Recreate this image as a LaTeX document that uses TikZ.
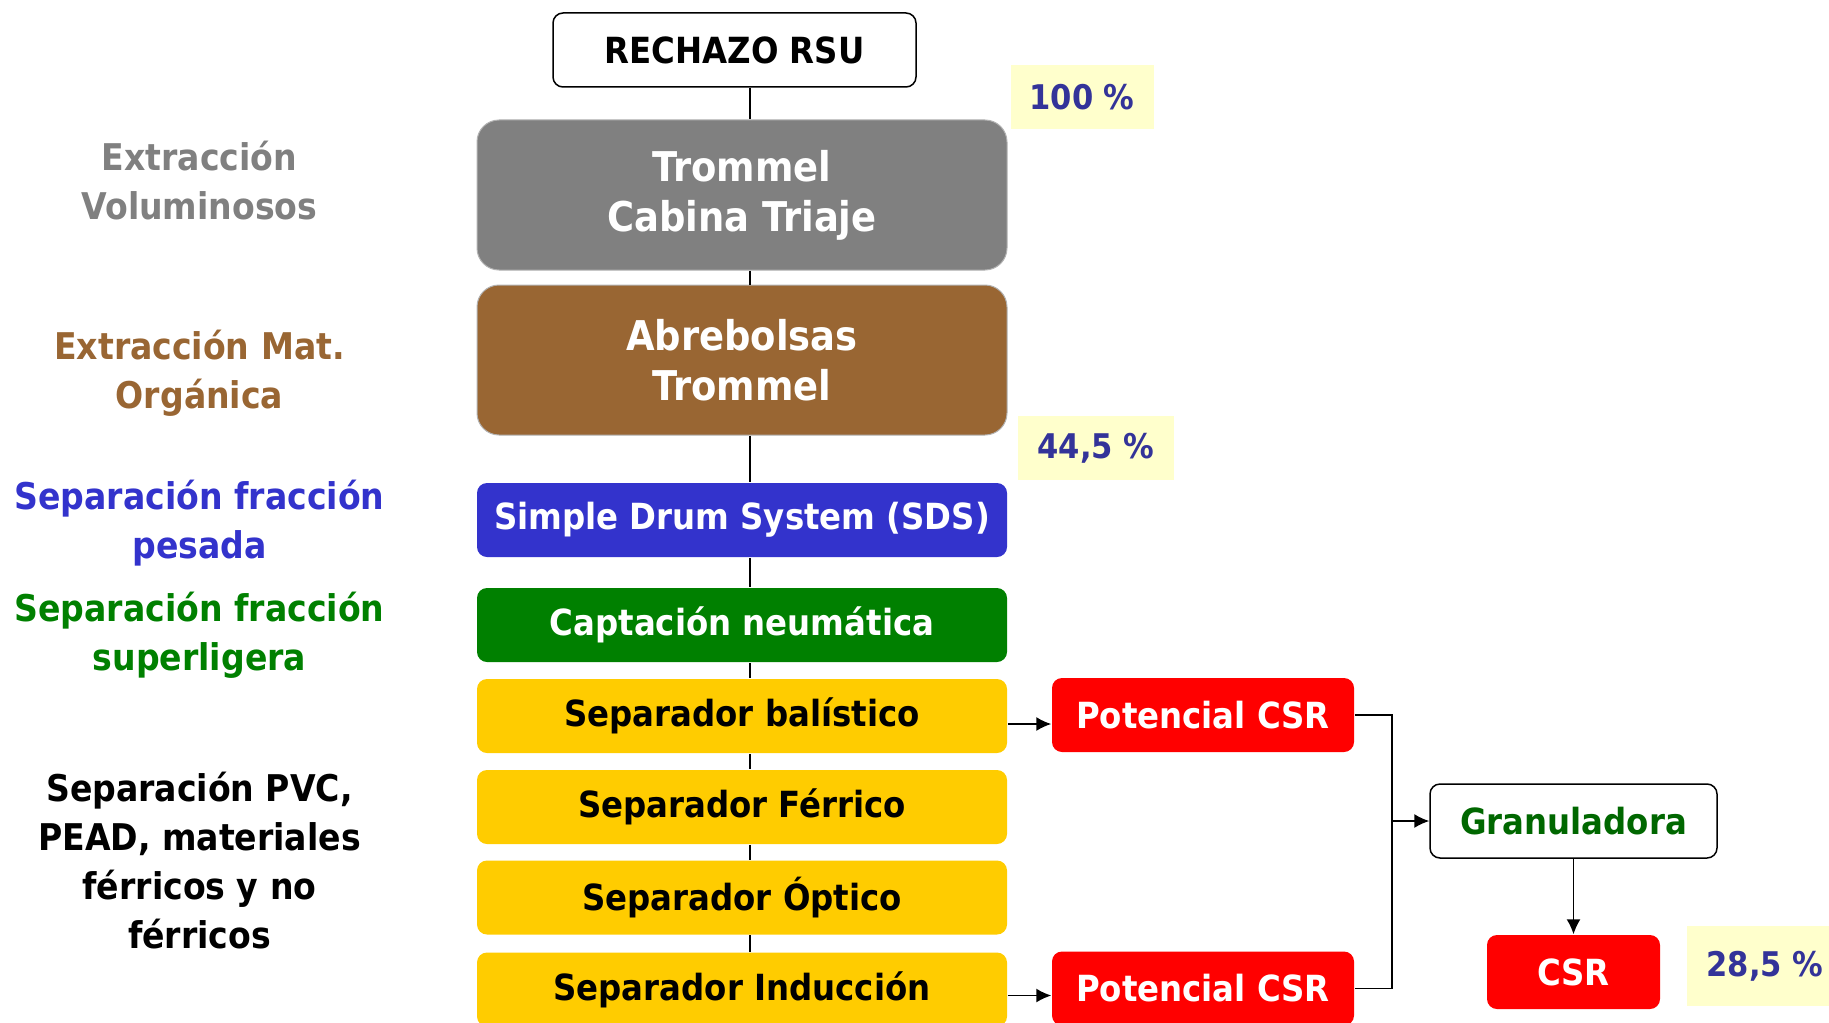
\documentclass[tikz,border=0pt]{standalone}
\usepackage{fontspec}
\setmainfont{DejaVu Sans Condensed}
\usetikzlibrary{positioning,arrows.meta}

\definecolor{grisvol}{HTML}{808080}
\definecolor{marronorg}{HTML}{996633}
\definecolor{azulsds}{HTML}{3333CC}
\definecolor{verdecap}{HTML}{008000}
\definecolor{amarillosep}{HTML}{FFCC00}
\definecolor{rojocsr}{HTML}{FF0000}
\definecolor{fondopct}{HTML}{FFFFCC}
\definecolor{textopct}{HTML}{333399}

\begin{document}
\begin{tikzpicture}[%
            x=0.5pt, y=-0.5pt,
            >={Latex[length=7.5pt,width=7pt]},
            line width=0.75pt,
            etapa/.style={rounded corners=5pt, inner sep=0pt, minimum width=265pt,
              minimum height=37pt, align=center,
              font=\fontsize{18}{25}\selectfont\bfseries},
            grande/.style={etapa, rounded corners=11pt, minimum height=75pt,
              draw=gray!60, line width=0.5pt, text=white,
              font=\fontsize{20.5}{25}\selectfont\bfseries},
            separador/.style={etapa, fill=amarillosep},
            potencial/.style={etapa, fill=rojocsr, text=white, minimum width=151pt},
            porcentaje/.style={inner sep=0pt, minimum height=32pt, fill=fondopct,
              text=textopct, font=\fontsize{17}{25}\selectfont\bfseries},
            etiqueta/.style={align=center, font=\fontsize{18.4}{24.5}\selectfont\bfseries}
            ]
            \useasboundingbox (0,0) rectangle (1829,1022);

            % columna principal
            \node[etapa, draw=black, fill=white, minimum width=181.5pt] (rsu) at (734.5,50) {RECHAZO RSU};
            \node[grande, fill=grisvol] (trommel) at (742,195) {Trommel\\Cabina Triaje};
            \node[grande, fill=marronorg] (abre) at (742,360) {Abrebolsas\\Trommel};
            \node[etapa, fill=azulsds, text=white] (sds) at (742,520) {Simple Drum System (SDS)};
            \node[etapa, fill=verdecap, text=white] (capt) at (742,625) {Captación neumática};
            \node[separador] (bal) at (742,716) {Separador balístico};
            \node[separador] (fer) at (742,807) {Separador Férrico};
            \node[separador] (opt) at (742,897.5) {Separador Óptico};
            \node[separador] (ind) at (742,989.5) {Separador Inducción};

            % rama CSR
            \node[potencial] (pot1) at (1203,715) {Potencial CSR};
            \node[potencial] (pot2) at (1203,988.5) {Potencial CSR};
            \node[etapa, draw=black, fill=white, text=verdecap!80!black, minimum width=143.5pt] (gran) at (1573.5,821) {Granuladora};
            \node[potencial, minimum width=86.5pt] (csr) at (1573.5,972) {CSR};

            % porcentajes
            \node[porcentaje, minimum width=71.5pt] (p100) at (1082,97) {100 \%};
            \node[porcentaje, minimum width=78pt] (p445) at (1096,448) {44,5 \%};
            \node[porcentaje, minimum width=78pt, minimum height=40pt] (p285) at (1765,966) {28,5 \%};

            % etiquetas
            \node[etiqueta, text=grisvol] (lvol) at (199.5,181) {Extracción\\Voluminosos};
            \node[etiqueta, text=marronorg] (lorg) at (199.5,373) {Extracción Mat.\\Orgánica};
            \node[etiqueta, text=azulsds] (lpes) at (199.5,523.5) {Separación fracción\\pesada};
            \node[etiqueta, text=verdecap] (lsup) at (199.5,635.5) {Separación fracción\\superligera};
            \node[etiqueta] (lpvc) at (199.5,860.5) {Separación PVC,\\PEAD, materiales\\férricos y no\\férricos};

            \coordinate (eje) at (750,0);
            \coordinate (bus) at (1392,821);

            \foreach \a/\b in {rsu/trommel, trommel/abre, abre/sds, sds/capt, capt/bal, bal/fer, fer/opt, opt/ind}
              \draw (\a.south -| eje) -- (\b.north -| eje);

            \path[->] ([yshift=-4pt]bal.east) edge ([yshift=-4pt]bal.east -| pot1.west);
            \path[->] ([yshift=-3pt]ind.east) edge ([yshift=-3pt]ind.east -| pot2.west);
            \draw (pot1.east) -| (bus);
            \draw (pot2.east) -| (bus);
            \path[->] (bus) edge (gran.west);
            \path[->] (gran) edge (csr);

        \end{tikzpicture}
\end{document}
